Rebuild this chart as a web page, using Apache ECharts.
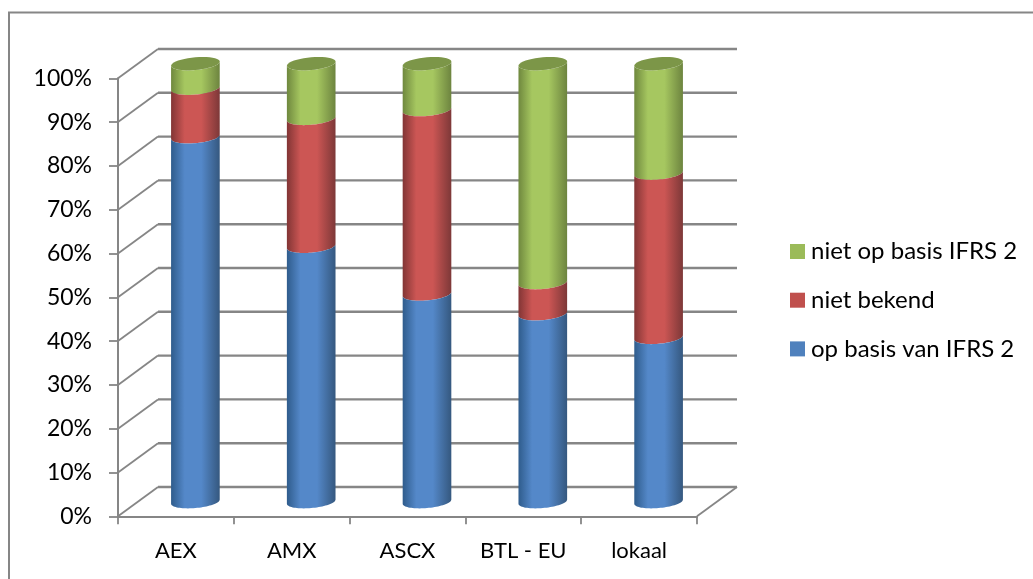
<!DOCTYPE html>
<html>
<head>
<meta charset="utf-8">
<title>IFRS 2</title>
<style>
  html, body { margin: 0; padding: 0; background: #fff; }
  #chart { width: 1033px; height: 579px; }
</style>
<script src="https://cdn.jsdelivr.net/npm/echarts@6/dist/echarts.min.js"></script>
</head>
<body>
<div id="chart"></div>
<script>
// Share of each listing group per reporting basis, in percent.
const categories = ['AEX', 'AMX', 'ASCX', 'BTL - EU', 'lokaal'];
const opBasis = [83.3, 58.3, 47.4, 42.9, 37.5];
const nietBekend = [11.1, 29.2, 42.1, 7.1, 37.5];
const nietOpBasis = [5.6, 12.5, 10.5, 50.0, 25.0];
const gridTicks = [0, 10, 20, 30, 40, 50, 60, 70, 80, 90, 100];

// Oblique projection of the chart box: how far the back wall sits from the front plane.
const DEPTH_X = 40;
const DEPTH_Y = -29.3;
const GRID_COLOR = '#868686';
const FONT = 'Lato, "Noto Sans", sans-serif';

const BAR_RATIO = 0.42;
const ELLIPSE_RY = 6.4;
const TILT = -0.085;

const stacks = [
  { name: 'op basis van IFRS 2', values: opBasis, edge: '#2f5c8c', mid: '#5488c9', far: '#35587f' },
  { name: 'niet bekend', values: nietBekend, edge: '#823535', mid: '#cc5654', far: '#7d3838' },
  { name: 'niet op basis IFRS 2', values: nietOpBasis, edge: '#6f883e', mid: '#a6c760', far: '#6d843f' }
];
const baseColors = ['#4f81bd', '#c0504d', '#9bbb59'];
const capColor = '#7c9648';

// Point on a tilted ellipse around (cx, cy); angle 0 is the right end, PI/2 the front.
function ellipsePoint(cx, cy, rx, angle) {
  const x = rx * Math.cos(angle);
  const y = ELLIPSE_RY * Math.sin(angle);
  return [cx + x, cy + y + x * TILT];
}

function arc(cx, cy, rx, from, to) {
  const pts = [];
  const steps = 40;
  for (let i = 0; i <= steps; i++) {
    pts.push(ellipsePoint(cx, cy, rx, from + (to - from) * i / steps));
  }
  return pts;
}

function renderCylinderPart(stack, isTop) {
  return function (params, api) {
    const cat = api.value(0);
    const start = api.value(1);
    const end = api.value(2);
    const low = api.coord([cat, start]);
    const high = api.coord([cat, end]);
    const rx = api.size([1, 0])[0] * BAR_RATIO / 2;
    const cx = low[0] + DEPTH_X / 2 - 0.5;
    const yLow = low[1] + DEPTH_Y / 2;
    const yHigh = high[1] + DEPTH_Y / 2;

    // Side wall: front arc along the bottom, front arc back along the top.
    const wall = arc(cx, yLow, rx, 0, Math.PI).concat(arc(cx, yHigh, rx, Math.PI, 0));
    const children = [{
      type: 'polygon',
      shape: { points: wall },
      style: {
        fill: new echarts.graphic.LinearGradient(0, 0, 1, 0, [
          { offset: 0, color: stack.edge },
          { offset: 0.28, color: stack.mid },
          { offset: 0.62, color: stack.mid },
          { offset: 1, color: stack.far }
        ])
      }
    }];
    if (isTop) {
      children.push({
        type: 'polygon',
        shape: { points: arc(cx, yHigh, rx, 0, Math.PI * 2) },
        style: { fill: capColor }
      });
    }
    return { type: 'group', children: children };
  };
}

// Back wall lines and side-wall lines of the chart box, one pair per tick.
function renderGridTick(params, api) {
  const v = api.value(0);
  const frontLeft = api.coord([0, v]);
  const size = api.size([1, 0])[0];
  const left = frontLeft[0] - size / 2;
  const right = left + size * categories.length;
  const y = frontLeft[1];
  return {
    type: 'group',
    children: [
      { type: 'line', shape: { x1: left, y1: y, x2: left + DEPTH_X, y2: y + DEPTH_Y }, style: { stroke: GRID_COLOR, lineWidth: 1.8 } },
      { type: 'line', shape: { x1: left + DEPTH_X, y1: y + DEPTH_Y, x2: right + DEPTH_X, y2: y + DEPTH_Y }, style: { stroke: GRID_COLOR, lineWidth: 2.4 } }
    ]
  };
}

function renderFloorEdge(params, api) {
  const origin = api.coord([0, 0]);
  const size = api.size([1, 0])[0];
  const right = origin[0] - size / 2 + size * categories.length;
  return {
    type: 'line',
    shape: { x1: right, y1: origin[1], x2: right + DEPTH_X, y2: origin[1] + DEPTH_Y },
    style: { stroke: GRID_COLOR, lineWidth: 1.8 }
  };
}

const cylinderSeries = [];
stacks.forEach(function (stack, s) {
  const data = categories.map(function (_, i) {
    let start = 0;
    for (let k = 0; k < s; k++) start += stacks[k].values[i];
    return [i, start, start + stack.values[i]];
  });
  cylinderSeries.push({
    name: stack.name,
    type: 'custom',
    renderItem: renderCylinderPart(stack, s === stacks.length - 1),
    itemStyle: { color: baseColors[s] },
    encode: { x: 0, y: 2 },
    data: data,
    z: 5 + (stacks.length - s),
    silent: true,
    clip: false
  });
});

const chart = echarts.init(document.getElementById('chart'), null, { renderer: 'canvas' });
chart.setOption({
  animation: false,
  backgroundColor: '#ffffff',
  textStyle: { fontFamily: FONT },
  graphic: [{
    type: 'polyline',
    silent: true,
    shape: { points: [[9, 579], [9, 12.5], [1033, 12.5]] },
    style: { stroke: GRID_COLOR, lineWidth: 2, fill: 'none' },
    z: 0
  }],
  grid: { left: 118, top: 78.3, width: 579, height: 438 },
  legend: {
    orient: 'vertical',
    left: 785,
    top: 234.5,
    itemWidth: 15,
    itemHeight: 15,
    itemGap: 24.7,
    icon: 'rect',
    data: ['niet op basis IFRS 2', 'niet bekend', 'op basis van IFRS 2'],
    textStyle: { fontFamily: FONT, fontSize: 24, color: '#000', padding: [0, 0, 0, 1] },
    selectedMode: false
  },
  xAxis: {
    type: 'category',
    data: categories,
    boundaryGap: true,
    axisLine: { lineStyle: { color: GRID_COLOR, width: 2 } },
    axisTick: { show: true, alignWithLabel: false, length: 8, lineStyle: { color: GRID_COLOR, width: 1.8 } },
    axisLabel: { fontFamily: FONT, fontSize: 22, color: '#000', margin: 24 },
    splitLine: { show: false }
  },
  yAxis: {
    type: 'value',
    min: 0,
    max: 100,
    interval: 10,
    axisLine: { show: true, lineStyle: { color: GRID_COLOR, width: 2 } },
    axisTick: { show: true, length: 9, lineStyle: { color: GRID_COLOR, width: 1.8 } },
    axisLabel: { formatter: '{value}%', fontFamily: FONT, fontSize: 23, color: '#000', margin: 26 },
    splitLine: { show: false }
  },
  series: [{
    type: 'custom',
    renderItem: renderGridTick,
    encode: { y: 0 },
    data: gridTicks.map(function (t) { return [t]; }),
    silent: true,
    clip: false,
    z: 1
  }, {
    type: 'custom',
    renderItem: renderFloorEdge,
    data: [[0]],
    silent: true,
    clip: false,
    z: 1
  }].concat(cylinderSeries)
});
</script>
</body>
</html>
